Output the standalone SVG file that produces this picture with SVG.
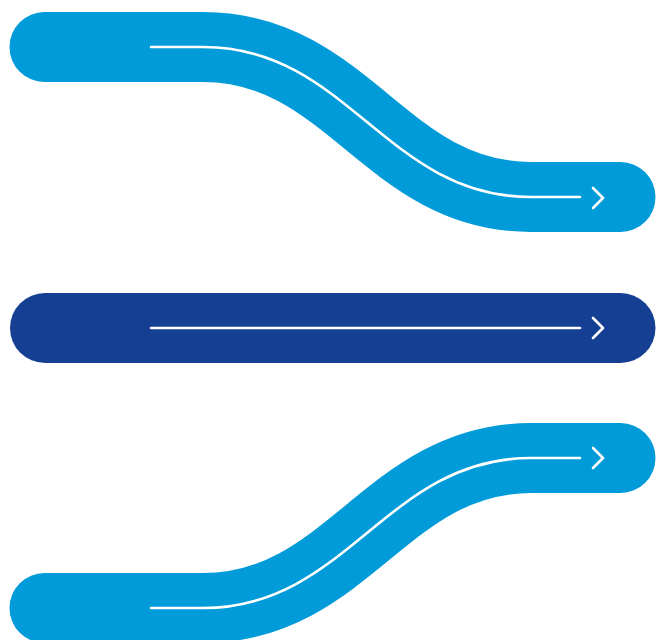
<svg xmlns="http://www.w3.org/2000/svg" width="656" height="640" viewBox="0 0 656 640">
  <style>
    .band{fill:none;stroke-width:70;stroke-linecap:round;stroke-linejoin:round}
    .light{stroke:#009bd8}
    .dark{stroke:#143f93}
    .line{fill:none;stroke:#ffffff;stroke-width:2.6;stroke-linecap:round;stroke-linejoin:round}
  </style>
  <rect width="656" height="640" fill="#ffffff"/>
  <g id="band-top">
    <path class="band light" d="M44.5,47 H203 C348,47 386,197 531,197 H620.5"/>
  </g>
  <g id="band-middle">
    <path class="band dark" d="M45,328 H620.5"/>
  </g>
  <g id="band-bottom">
    <path class="band light" d="M44.5,608 H203 C348,608 386,458 531,458 H620.5"/>
  </g>
  <g id="connectors">
    <path class="line" d="M151,47 H203 C348,47 386,197 531,197 H580"/>
    <path class="line" d="M593,188 L603,198 L593,208"/>
    <path class="line" d="M151,328 H580"/>
    <path class="line" d="M593,318 L603,328 L593,338"/>
    <path class="line" d="M151,608 H203 C348,608 386,458 531,458 H580"/>
    <path class="line" d="M593,448 L603,458 L593,468"/>
  </g>
</svg>
